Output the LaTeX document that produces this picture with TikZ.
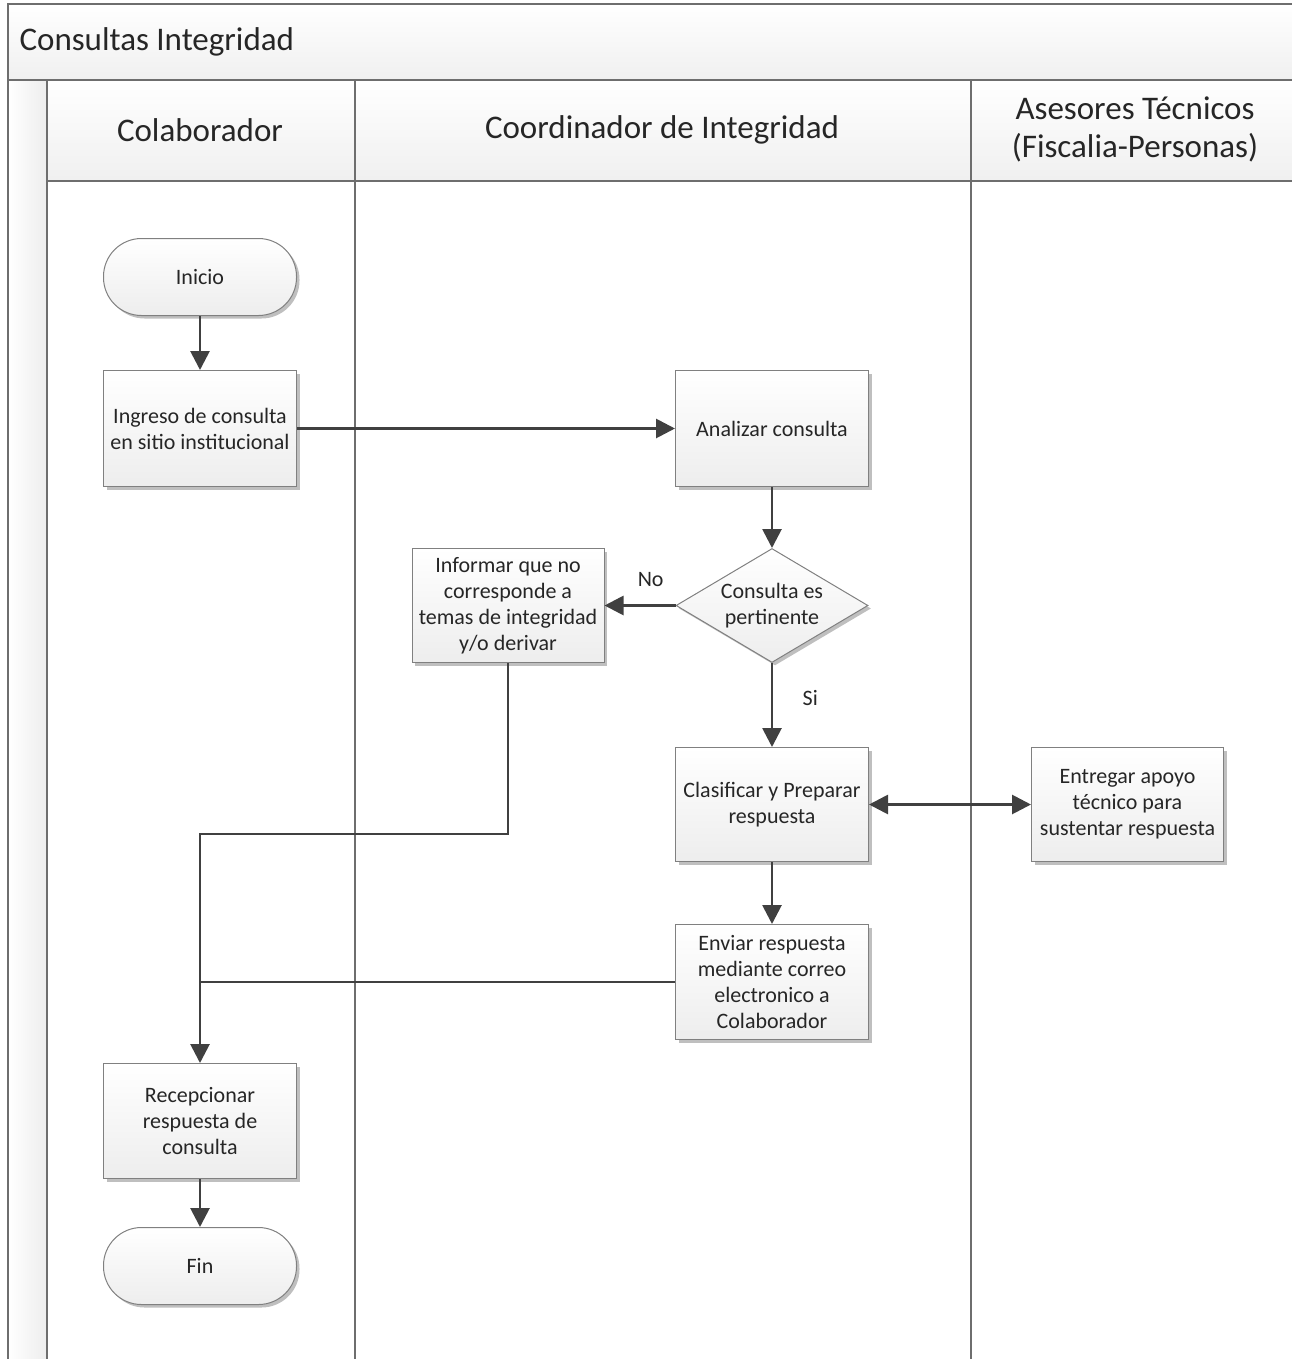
\documentclass[tikz,border=0pt]{standalone}
\usepackage{fontspec}
\setmainfont{Carlito}
\usetikzlibrary{positioning,shapes.geometric,arrows.meta,shadows}

\definecolor{linegray}{HTML}{404040}
\definecolor{framegray}{HTML}{6E6E6E}
\definecolor{boxgray}{HTML}{808080}
\definecolor{textgray}{HTML}{262626}

\begin{document}
\begin{tikzpicture}[x=1pt,y=-1pt,
stepbox/.style={rectangle, draw=boxgray, line width=1pt, top color=white, bottom color=gray!14,
  drop shadow={shadow xshift=3pt, shadow yshift=-3pt, opacity=0.25, fill=black},
  minimum width=193pt, minimum height=116pt, align=center, text=textgray, inner sep=2pt,
  font=\fontsize{22}{26}\selectfont},
termnode/.style={stepbox, rounded corners=38pt, minimum height=77pt},
decisionnode/.style={diamond, aspect=1.68, draw=boxgray, line width=1pt, top color=white, bottom color=gray!14,
  drop shadow={shadow xshift=3pt, shadow yshift=-3pt, opacity=0.25, fill=black},
  minimum width=192pt, minimum height=114pt, inner sep=-4pt, align=center, text=textgray,
  font=\fontsize{22}{26}\selectfont},
lanehead/.style={text=textgray, align=center, font=\fontsize{33}{38}\selectfont},
conn/.style={draw=linegray, line width=2.8pt, -{Triangle[length=19pt,width=19pt]}},
line/.style={draw=linegray, line width=2.8pt},
frame/.style={draw=framegray, line width=1.6pt},
]
\useasboundingbox (0,0) rectangle (1292,1359);

%Pool and lanes
\shade[top color=white, bottom color=gray!12] (8,4) rectangle (1292,80);
\shade[top color=white, bottom color=gray!12] (47,80) rectangle (1292,181);
\shade[left color=white, right color=gray!14] (8,80) rectangle (47,1359);
\draw[frame] (1292,4) -- (8,4) -- (8,1359);
\draw[frame] (8,80) -- (1292,80);
\draw[frame] (47,181) -- (1292,181);
\draw[frame] (47,80) -- (47,1359);
\draw[frame] (355,80) -- (355,1359);
\draw[frame] (971,80) -- (971,1359);

\node[lanehead, anchor=west] (pooltitle) at (16,42) {Consultas Integridad};
\node[lanehead] (laneA) at (200,130) {Colaborador};
\node[lanehead] (laneB) at (662,130) {Coordinador de Integridad};
\node[lanehead] (laneC) at (1135,129) {Asesores Técnicos\\(Fiscalia-Personas)};

%Nodes
\node[termnode] (inicio) at (200,277) {Inicio};
\node[stepbox] (ingreso) [below=54pt of inicio] {Ingreso de consulta\\en sitio institucional};
\node[stepbox] (analizar) [right=378pt of ingreso] {Analizar consulta};
\node[decisionnode] (pertinente) [below=61pt of analizar] {Consulta es\\pertinente};
\node[stepbox, minimum width=192pt, minimum height=114pt] (informar) [left=71pt of pertinente] {Informar que no\\corresponde a\\temas de integridad\\y/o derivar};
\node[stepbox, minimum height=114pt] (clasificar) [below=84pt of pertinente] {Clasificar y Preparar\\respuesta};
\node[stepbox, minimum width=192pt, minimum height=114pt] (entregar) [right=162pt of clasificar] {Entregar apoyo\\técnico para\\sustentar respuesta};
\node[stepbox, minimum height=115pt] (enviar) [below=62pt of clasificar] {Enviar respuesta\\mediante correo\\electronico a\\Colaborador};
\node[stepbox, minimum height=115pt] (recepcionar) at (200,1121) {Recepcionar\\respuesta de\\consulta};
\node[termnode] (fin) [below=48pt of recepcionar] {Fin};

\coordinate (joinA) at (recepcionar.north |- 0,834);

%Lines
\draw[conn] (inicio) -- (ingreso);
\draw[conn] (ingreso) -- (analizar);
\draw[conn] (analizar) -- (pertinente);
\draw[conn] (pertinente) -- node[above=14pt, pos=0.35, text=textgray, font=\fontsize{22}{26}\selectfont] (nolabel) {No} (informar);
\draw[conn] (pertinente) -- node[right=26pt, pos=0.42, text=textgray, font=\fontsize{22}{26}\selectfont] (silabel) {Si} (clasificar);
\draw[conn, {Triangle[length=19pt,width=19pt]}-{Triangle[length=19pt,width=19pt]}] (clasificar) -- (entregar);
\draw[conn] (clasificar) -- (enviar);
\draw[conn] (informar.south) |- (joinA) -- (recepcionar.north);
\draw[line] (enviar.west) -- (enviar.west -| joinA);
\draw[conn] (recepcionar) -- (fin);
\end{tikzpicture}
\end{document}
